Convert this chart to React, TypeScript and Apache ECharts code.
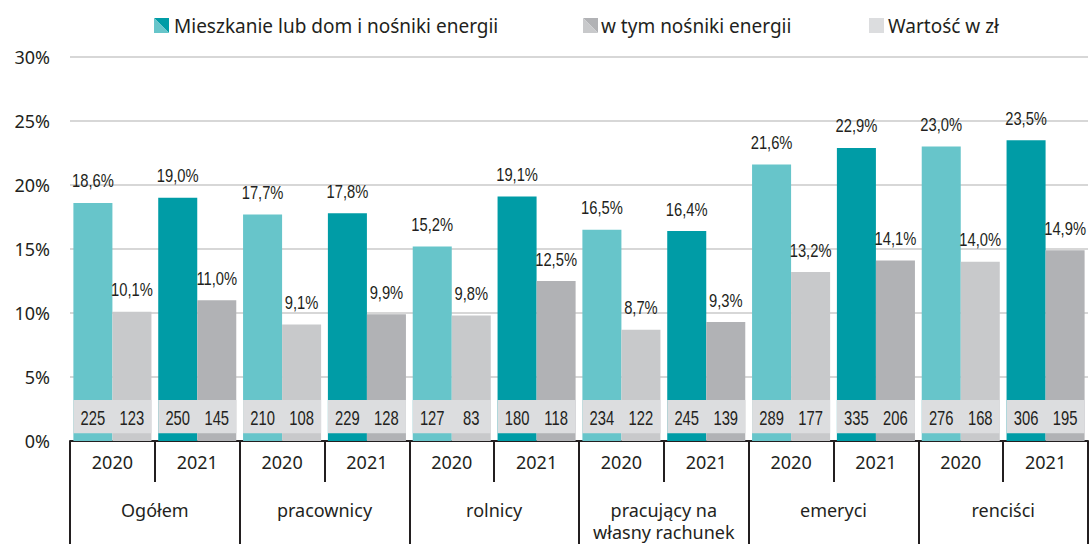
import React, { useEffect, useRef } from 'react';
import * as echarts from 'echarts';

const years = ['2020', '2021', '2020', '2021', '2020', '2021', '2020', '2021', '2020', '2021', '2020', '2021'];
const groups = ['Ogółem', 'pracownicy', 'rolnicy', 'pracujący na\nwłasny rachunek', 'emeryci', 'renciści'];
const housingShare = [18.6, 19.0, 17.7, 17.8, 15.2, 19.1, 16.5, 16.4, 21.6, 22.9, 23.0, 23.5];
const energyShare = [10.1, 11.0, 9.1, 9.9, 9.8, 12.5, 8.7, 9.3, 13.2, 14.1, 14.0, 14.9];
const housingZl = [225, 250, 210, 229, 127, 180, 234, 245, 289, 335, 276, 306];
const energyZl = [123, 145, 108, 128, 83, 118, 122, 139, 177, 206, 168, 195];
const legendNames = ['Mieszkanie lub dom i nośniki energii', 'w tym nośniki energii', 'Wartość w zł'];

const NARROW = "'Liberation Sans', Arial, sans-serif";
const SANS = "'Noto Sans', 'Open Sans', sans-serif";
const TXT = '#231f20';
const C_TEAL_L = '#67c5ca';
const C_TEAL_D = '#009ca6';
const C_GREY_L = '#c8c9cb';
const C_GREY_D = '#b1b2b5';
const C_BAND = '#dcdddf';
const BAND_LOW = 0.6;
const BAND_HIGH = 3.2;
const CAT_GAP = 0.08;

const fmtPct = (v: number) => v.toFixed(1).replace('.', ',') + '%';

export default function App() {
  const ref = useRef<HTMLDivElement>(null);
  useEffect(() => {
    if (!ref.current) return;
    const chart = echarts.init(ref.current, null, { renderer: 'svg' });

    const legendIcon = (x: number, c1: string, c2: string) => [
      { type: 'polygon', shape: { points: [[x, 18], [x + 15, 18], [x + 15, 33]] }, style: { fill: c1 } },
      { type: 'polygon', shape: { points: [[x, 18], [x, 33], [x + 15, 33]] }, style: { fill: c2 } },
    ];

    const narrowText = (t: string, x: number, y: number, size: number, squeeze: number, vAlign: string) => ({
      type: 'text',
      x,
      y,
      scaleX: squeeze,
      style: { text: t, x: 0, y: 0, align: 'center', verticalAlign: vAlign, fontFamily: NARROW, fontSize: size, fill: TXT },
    });

    const geom = (api: any, i: number) => {
      const cx = api.coord([i, 0])[0];
      const bw = api.size([1, 0])[0];
      const total = bw * (1 - CAT_GAP);
      const x0 = cx - total / 2;
      return { x0, total, c1: x0 + total / 4, c2: x0 + (3 * total) / 4 };
    };

    chart.setOption({
      animation: false,
      grid: { left: 70, right: 2, top: 57, bottom: 103 },
      graphic: [
        ...legendIcon(154, C_TEAL_D, C_TEAL_L),
        { type: 'text', x: 174, y: 26, style: { text: legendNames[0], fontFamily: SANS, fontSize: 19, fill: TXT, verticalAlign: 'middle' } },
        ...legendIcon(583, C_GREY_D, C_GREY_L),
        { type: 'text', x: 601, y: 26, style: { text: legendNames[1], fontFamily: SANS, fontSize: 19, fill: TXT, verticalAlign: 'middle' } },
        { type: 'rect', shape: { x: 869, y: 18, width: 15, height: 15 }, style: { fill: C_BAND } },
        { type: 'text', x: 888, y: 26, style: { text: legendNames[2], fontFamily: SANS, fontSize: 19, fill: TXT, verticalAlign: 'middle' } },
      ],
      xAxis: [
        {
          type: 'category',
          data: years,
          position: 'bottom',
          axisLine: { show: true, lineStyle: { color: TXT, width: 2 } },
          axisTick: { show: true, length: 41, interval: 0, lineStyle: { color: TXT, width: 2 } },
          axisLabel: { margin: 12, fontFamily: SANS, fontSize: 18, color: TXT, interval: 0 },
        },
        {
          type: 'category',
          data: groups,
          position: 'bottom',
          axisLine: { show: false },
          axisTick: { show: true, length: 103, interval: 0, lineStyle: { color: TXT, width: 2 } },
          axisLabel: { margin: 58, fontFamily: SANS, fontSize: 18, lineHeight: 22, color: TXT, interval: 0 },
        },
      ],
      yAxis: {
        type: 'value',
        min: 0,
        max: 30,
        interval: 5,
        axisLine: { show: false },
        axisTick: { show: false },
        axisLabel: { formatter: '{value}%', margin: 20, fontFamily: SANS, fontSize: 18, color: TXT },
        splitLine: { lineStyle: { color: '#cacaca', width: 1.5 } },
      },
      series: [
        {
          name: legendNames[0],
          type: 'bar',
          xAxisIndex: 0,
          data: housingShare,
          barGap: '0%',
          barCategoryGap: CAT_GAP * 100 + '%',
          itemStyle: { color: (p: any) => (p.dataIndex % 2 === 0 ? C_TEAL_L : C_TEAL_D) },
        },
        {
          name: legendNames[1],
          type: 'bar',
          xAxisIndex: 0,
          data: energyShare,
          barGap: '0%',
          barCategoryGap: CAT_GAP * 100 + '%',
          itemStyle: { color: (p: any) => (p.dataIndex % 2 === 0 ? C_GREY_L : C_GREY_D) },
        },
        {
          name: 'labels',
          type: 'custom',
          xAxisIndex: 0,
          z: 6,
          clip: false,
          data: years.map((_, i) => [i, housingShare[i], energyShare[i]]),
          encode: { x: 0, y: 1 },
          renderItem: (params: any, api: any) => {
            const i = api.value(0);
            const g = geom(api, i);
            const h = api.value(1);
            const e = api.value(2);
            return {
              type: 'group',
              children: [
                narrowText(fmtPct(h), g.c1, api.coord([i, h])[1] - 13, 18, 0.82, 'bottom'),
                narrowText(fmtPct(e), g.c2, api.coord([i, e])[1] - 13, 18, 0.82, 'bottom'),
              ],
            };
          },
        },
        {
          name: legendNames[2],
          type: 'custom',
          xAxisIndex: 0,
          z: 5,
          clip: false,
          data: years.map((_, i) => [i, housingZl[i], energyZl[i]]),
          encode: { x: 0, y: 1 },
          renderItem: (params: any, api: any) => {
            const i = api.value(0);
            const g = geom(api, i);
            const yTop = api.coord([i, BAND_HIGH])[1];
            const yBot = api.coord([i, BAND_LOW])[1];
            const ym = (yTop + yBot) / 2 + 1;
            return {
              type: 'group',
              children: [
                { type: 'rect', shape: { x: g.x0, y: yTop, width: g.total, height: yBot - yTop }, style: { fill: C_BAND } },
                narrowText(String(api.value(1)), g.c1, ym, 20, 0.74, 'middle'),
                narrowText(String(api.value(2)), g.c2, ym, 20, 0.74, 'middle'),
              ],
            };
          },
        },
      ],
    });
    return () => chart.dispose();
  }, []);
  return <div ref={ref} style={{ position: 'absolute', left: 0, top: 0, width: 1090, height: 544 }} />;
}
